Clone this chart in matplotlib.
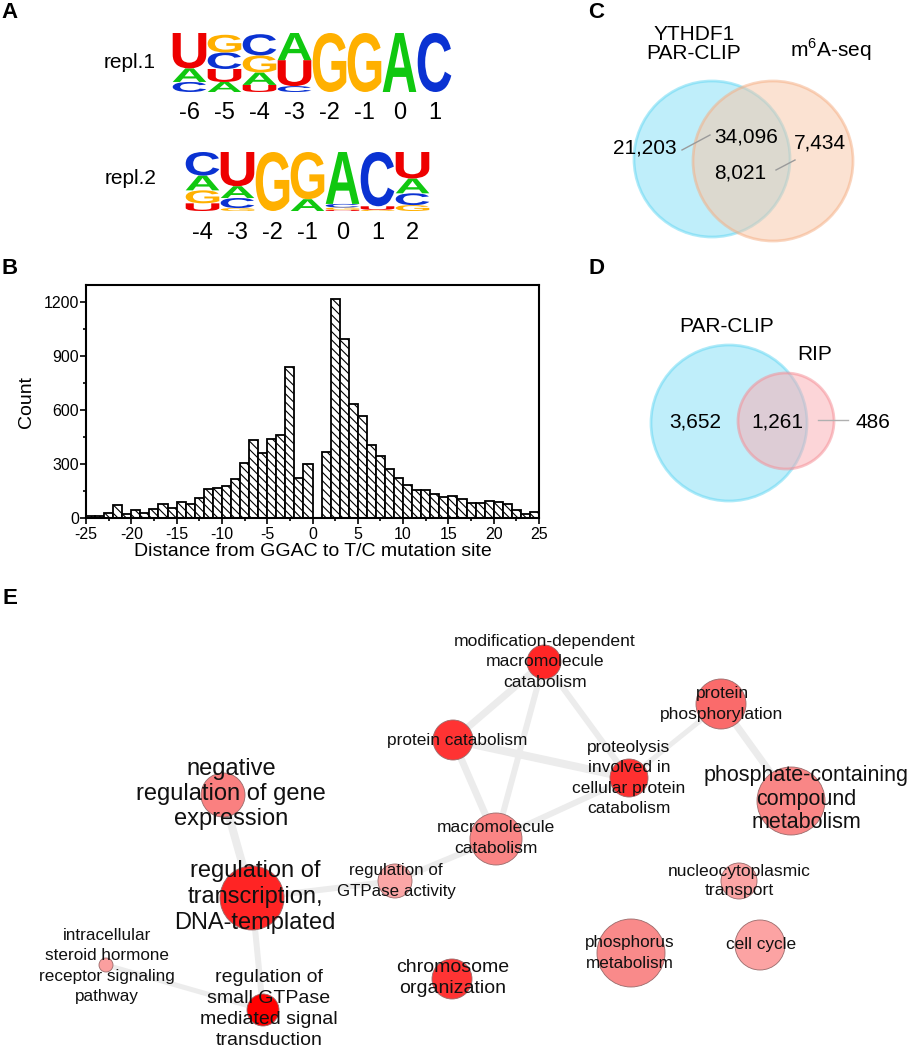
import matplotlib
matplotlib.use("Agg")
import matplotlib.pyplot as plt
import matplotlib.transforms as mtransforms
from matplotlib.patches import Circle, PathPatch
from matplotlib.textpath import TextPath
from matplotlib.font_manager import FontProperties
from matplotlib.ticker import MultipleLocator

plt.rcParams["font.family"] = ["Liberation Sans", "DejaVu Sans"]
plt.rcParams["mathtext.fontset"] = "custom"
plt.rcParams["mathtext.rm"] = "Liberation Sans"
plt.rcParams["hatch.linewidth"] = 0.8
plt.rcParams["axes.unicode_minus"] = False

########## Panel A data: letter frequencies per position
logo1_pos = [-6, -5, -4, -3, -2, -1, 0, 1]
logo1_A = [0.23, 0.17, 0.21, 0.46, 0.0, 0.0, 1.0, 0.0]
logo1_C = [0.17, 0.28, 0.36, 0.10, 0.0, 0.0, 0.0, 1.0]
logo1_G = [0.00, 0.30, 0.29, 0.00, 1.0, 1.0, 0.0, 0.0]
logo1_U = [0.60, 0.22, 0.12, 0.44, 0.0, 0.0, 0.0, 0.0]

logo2_pos = [-4, -3, -2, -1, 0, 1, 2]
logo2_A = [0.25, 0.20, 0.0, 0.20, 0.88, 0.00, 0.25]
logo2_C = [0.40, 0.17, 0.0, 0.00, 0.06, 0.92, 0.20]
logo2_G = [0.22, 0.05, 1.0, 0.80, 0.04, 0.02, 0.10]
logo2_U = [0.13, 0.58, 0.0, 0.00, 0.02, 0.06, 0.45]

########## Panel B data: histogram bins (left edges) and counts
bin_left = list(range(-25, 25))
counts = [11, 11, 26, 72, 20, 44, 30, 48, 76, 57,
          87, 76, 109, 161, 165, 179, 216, 303, 435, 360,
          440, 460, 840, 222, 300, 0, 365, 1215, 995, 633,
          565, 408, 346, 270, 222, 186, 155, 155, 133, 118,
          124, 104, 81, 81, 94, 87, 76, 44, 20, 35]

########## Panel C / D data
venn_c_sets = ["YTHDF1\nPAR-CLIP", "m$^6$A-seq"]
venn_c_counts = ["21,203", "34,096", "7,434", "8,021"]
venn_d_sets = ["PAR-CLIP", "RIP"]
venn_d_counts = ["3,652", "1,261", "486"]

########## Panel E data: GO term network
go_terms = ["negative\nregulation of gene\nexpression",
            "regulation of\ntranscription,\nDNA-templated",
            "regulation of\nGTPase activity",
            "intracellular\nsteroid hormone\nreceptor signaling\npathway",
            "regulation of\nsmall GTPase\nmediated signal\ntransduction",
            "chromosome\norganization",
            "protein catabolism",
            "modification-dependent\nmacromolecule\ncatabolism",
            "proteolysis\ninvolved in\ncellular protein\ncatabolism",
            "macromolecule\ncatabolism",
            "protein\nphosphorylation",
            "phosphate-containing\ncompound\nmetabolism",
            "nucleocytoplasmic\ntransport",
            "phosphorus\nmetabolism",
            "cell cycle"]
go_size = [22, 32, 17, 7, 16, 20, 20, 17, 19, 26, 25, 34, 18, 34, 25]
go_color = ["#fa8080", "#ff2424", "#fba6a6", "#fb9f9f", "#ff0000",
            "#ff3434", "#ff3333", "#ff2626", "#ff3030", "#fa8585",
            "#fa6b6b", "#f98686", "#fba4a4", "#f98a8a", "#fca3a3"]
go_edges = [(0, 1), (1, 2), (2, 9), (1, 4), (4, 3), (6, 7), (6, 8),
            (6, 9), (7, 9), (7, 8), (9, 8), (8, 10), (10, 11)]

########## Layout (pixels of the 917 x 1050 figure)
W, H = 917, 1050
node_xy = [(223, 795), (252, 898), (395, 881), (106, 965), (263, 1010),
           (452, 979), (453, 740), (544, 662), (629, 778), (496, 839),
           (721, 704), (791, 801), (739, 881), (631, 953), (760, 945)]
label_xy = [(231, 794), (255, 897), (396, 881), (107, 966), (269, 1009),
            (453, 978), (457, 740), (545, 662), (629, 778), (496, 838),
            (722, 704), (806, 799), (739, 881), (630, 953), (761, 945)]
label_fs = [17, 17, 12.2, 12.3, 14, 14, 12.4, 12.6, 12.5, 12.5,
            12.5, 15.5, 12.6, 12.3, 12.4]
label_pitch = [25.5, 26.5, 22, 22.3, 22.7, 22, 22, 23, 22.3, 23,
               23, 22.5, 22, 22, 22]
edge_px = [8, 6, 6, 6, 5, 7, 8, 7, 6, 6, 6, 5, 7]

fig = plt.figure(figsize=(W / 100, H / 100), dpi=100)


def px_axes(left, top, right, bottom):
    return fig.add_axes([left / W, 1 - bottom / H, (right - left) / W, (bottom - top) / H])


########## Background axes in pixel coordinates
bg = fig.add_axes([0, 0, 1, 1])
bg.set_xlim(0, W)
bg.set_ylim(H, 0)
bg.axis("off")

for lab, x, y in [("A", 10, 13), ("B", 10, 269), ("C", 596, 13), ("D", 596, 268), ("E", 10, 599)]:
    bg.text(x, y, lab, fontsize=16, fontweight="bold", ha="center", va="center")

########## Panel A: sequence logos
letter_colors = {"A": "#10c810", "C": "#0a32d2", "G": "#ffb000", "U": "#ee0000"}
fp = FontProperties(family="Liberation Sans", weight="bold")


def draw_letter(ax, letter, x, y, w, h):
    tp = TextPath((0, 0), letter, size=1, prop=fp)
    bb = tp.get_extents()
    tr = (mtransforms.Affine2D().translate(-bb.x0, -bb.y0)
          .scale(w / bb.width, h / bb.height).translate(x, y))
    ax.add_patch(PathPatch(tr.transform_path(tp), facecolor=letter_colors[letter],
                           edgecolor="none"))


def draw_logo(ax, pos, freqs, pad):
    for i in range(len(pos)):
        col = sorted([(freqs[k][i], k) for k in freqs])
        y0 = 0
        for f, k in col:
            if f > 0.005:
                draw_letter(ax, k, i - 0.48, y0, 0.96, f)
            y0 += f
    ax.set_xlim(-0.5, len(pos) - 0.5)
    ax.set_ylim(0, 1)
    ax.set_xticks(range(len(pos)))
    ax.set_xticklabels(pos, fontsize=17)
    ax.tick_params(axis="x", length=0, pad=pad)
    ax.set_yticks([])
    for s in ax.spines.values():
        s.set_visible(False)
    ax.patch.set_alpha(0)


ax_l1 = px_axes(172, 33, 452, 92)
draw_logo(ax_l1, logo1_pos, {"A": logo1_A, "C": logo1_C, "G": logo1_G, "U": logo1_U}, 7)
ax_l2 = px_axes(185, 152, 430, 211)
draw_logo(ax_l2, logo2_pos, {"A": logo2_A, "C": logo2_C, "G": logo2_G, "U": logo2_U}, 8)
bg.text(156, 63, "repl.1", fontsize=15, ha="right", va="center")
bg.text(157, 179, "repl.2", fontsize=15, ha="right", va="center")

########## Panel B: histogram
ax_h = px_axes(86, 285, 539, 518)
ax_h.bar(bin_left, counts, width=1, align="edge", facecolor="white",
         edgecolor="black", linewidth=1.3, hatch="\\\\\\\\")
ax_h.set_xlim(-25, 25)
ax_h.set_ylim(0, 1295)
ax_h.set_xticks(range(-25, 26, 5))
ax_h.xaxis.set_minor_locator(MultipleLocator(2.5))
ax_h.set_yticks([0, 300, 600, 900, 1200])
ax_h.yaxis.set_minor_locator(MultipleLocator(150))
ax_h.tick_params(which="both", direction="out", width=1.2, labelsize=11.5)
ax_h.tick_params(axis="y", pad=1)
ax_h.tick_params(axis="x", pad=2.5)
ax_h.tick_params(which="major", length=4)
ax_h.tick_params(which="minor", length=2.5)
for s in ax_h.spines.values():
    s.set_linewidth(1.5)
ax_h.set_xlabel("Distance from GGAC to T/C mutation site", fontsize=14, labelpad=1)
ax_h.set_ylabel("Count", fontsize=14, labelpad=6)

########## Panel C: Venn
bg.add_patch(Circle((712, 159), 78, facecolor="#80dff6", edgecolor="#5fd6f3",
                    alpha=0.5, lw=2))
bg.add_patch(Circle((773, 161), 80, facecolor="#f9c6a6", edgecolor="#f5ac80",
                    alpha=0.5, lw=2))
bg.text(694, 44, venn_c_sets[0], fontsize=15, ha="center", va="center", linespacing=1.05)
bg.text(831, 50, venn_c_sets[1], fontsize=15, ha="center", va="center")
for txt, (x, y) in zip(venn_c_counts, [(645, 148), (746, 137), (820, 143), (740, 173)]):
    bg.text(x, y, txt, fontsize=15, ha="center", va="center")
bg.plot([682, 710], [150, 135], color="#9a9a9a", lw=1)
bg.plot([776, 795], [170, 160], color="#9a9a9a", lw=1)

########## Panel D: Venn
bg.add_patch(Circle((729, 423), 78, facecolor="#80dff6", edgecolor="#5fd6f3",
                    alpha=0.5, lw=2))
bg.add_patch(Circle((786, 421), 48, facecolor="#fbacb2", edgecolor="#f58a92",
                    alpha=0.5, lw=2))
bg.text(727, 327, venn_d_sets[0], fontsize=15, ha="center", va="center")
bg.text(815, 355, venn_d_sets[1], fontsize=15, ha="center", va="center")
for txt, (x, y) in zip(venn_d_counts, [(695, 422), (777, 422), (873, 422)]):
    bg.text(x, y, txt, fontsize=15, ha="center", va="center")
bg.plot([818, 848], [420, 420], color="#b0b0b0", lw=1)

########## Panel E: GO network
for (i, j), w in zip(go_edges, edge_px):
    bg.plot([node_xy[i][0], node_xy[j][0]], [node_xy[i][1], node_xy[j][1]],
            color="#ececec", lw=w * 0.72, solid_capstyle="round", zorder=1)
for (x, y), r, c in zip(node_xy, go_size, go_color):
    bg.add_patch(Circle((x, y), r, facecolor=c, edgecolor="#9a6a6a", lw=0.6, zorder=2))
for txt, (x, y), fs, pitch in zip(go_terms, label_xy, label_fs, label_pitch):
    ls = pitch / (0.9 * fs * 100 / 72)
    bg.text(x, y, txt, fontsize=fs, ha="center", va="center", linespacing=ls,
            color="#111111", zorder=3)

fig.savefig("out.png", dpi=100)
